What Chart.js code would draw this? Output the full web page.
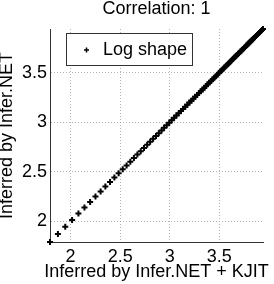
<!doctype html>
<html lang="en">
<head>
<meta charset="utf-8">
<title>Correlation: 1</title>
<script src="https://cdn.jsdelivr.net/npm/chart.js@4/dist/chart.umd.min.js"></script>
<style>
  body { margin: 0; background: #fff; }
  canvas { display: block; }
</style>
</head>
<body>
<canvas id="chart" width="274" height="284"></canvas>
<script>
// values (both estimates sit on the diagonal)
var inferredKjit = [
  1.792, 1.872, 1.946, 2.015, 2.079, 2.140, 2.197, 2.251, 2.303, 2.351,
  2.398, 2.442, 2.485, 2.526, 2.565, 2.603, 2.639, 2.674, 2.708, 2.741,
  2.773, 2.803, 2.833, 2.862, 2.890, 2.918, 2.944, 2.970, 2.996, 3.020,
  3.045, 3.068, 3.091, 3.114, 3.135, 3.157, 3.178, 3.199, 3.219, 3.239,
  3.258, 3.277, 3.296, 3.314, 3.332, 3.350, 3.367, 3.384, 3.401, 3.418,
  3.434, 3.450, 3.466, 3.481, 3.497, 3.512, 3.526, 3.541, 3.555, 3.570,
  3.584, 3.597, 3.611, 3.624, 3.638, 3.651, 3.664, 3.676, 3.689, 3.701,
  3.714, 3.726, 3.738, 3.750, 3.761, 3.773, 3.784, 3.795, 3.807, 3.818,
  3.829, 3.839, 3.850, 3.861, 3.871, 3.882, 3.892, 3.902, 3.912, 3.922,
  3.932, 3.942
];
var inferredNet = [
  1.792, 1.872, 1.946, 2.015, 2.079, 2.140, 2.197, 2.251, 2.303, 2.351,
  2.398, 2.442, 2.485, 2.526, 2.565, 2.603, 2.639, 2.674, 2.708, 2.741,
  2.773, 2.803, 2.833, 2.862, 2.890, 2.918, 2.944, 2.970, 2.996, 3.020,
  3.045, 3.068, 3.091, 3.114, 3.135, 3.157, 3.178, 3.199, 3.219, 3.239,
  3.258, 3.277, 3.296, 3.314, 3.332, 3.350, 3.367, 3.384, 3.401, 3.418,
  3.434, 3.450, 3.466, 3.481, 3.497, 3.512, 3.526, 3.541, 3.555, 3.570,
  3.584, 3.597, 3.611, 3.624, 3.638, 3.651, 3.664, 3.676, 3.689, 3.701,
  3.714, 3.726, 3.738, 3.750, 3.761, 3.773, 3.784, 3.795, 3.807, 3.818,
  3.829, 3.839, 3.850, 3.861, 3.871, 3.882, 3.892, 3.902, 3.912, 3.922,
  3.932, 3.942
];
var xTicks = [2, 2.5, 3, 3.5];
var yTicks = [2, 2.5, 3, 3.5];
var axisMin = 1.792, axisMax = 3.942;
var seriesName = 'Log shape';
var xTitle = 'Inferred by Infer.NET + KJIT';

var FONT = '"Liberation Sans", Arial, Helvetica, sans-serif';

var points = inferredKjit.map(function (v, i) { return { x: v, y: inferredNet[i] }; });

// legend drawn inside the plot, like the matlab one; x title drawn here too
// because the scale title gets squeezed to the plot width
var insideLegend = {
  id: 'insideLegend',
  afterDraw: function (chart) {
    var ctx = chart.ctx;
    var a = chart.chartArea;
    var bx = a.left + 16, by = a.top + 4, bw = 126, bh = 32;
    ctx.save();
    ctx.fillStyle = '#fff';
    ctx.fillRect(bx, by, bw, bh);
    ctx.strokeStyle = '#333';
    ctx.lineWidth = 1;
    ctx.strokeRect(bx + 0.5, by + 0.5, bw, bh);
    ctx.strokeStyle = '#000';
    ctx.lineWidth = 1.5;
    Chart.helpers.drawPoint(ctx, { pointStyle: 'cross', radius: 2.5, borderWidth: 1.5, rotation: 0 }, bx + 20.5, by + 17);
    ctx.fillStyle = '#000';
    ctx.font = '18px ' + FONT;
    ctx.textBaseline = 'middle';
    ctx.textAlign = 'left';
    ctx.fillText(seriesName, bx + 37, by + 17);

    ctx.textAlign = 'center';
    ctx.fillText(xTitle, (a.left + a.right) / 2, chart.height - 12);
    ctx.restore();
  }
};

function setTicks(list) {
  return function (scale) { scale.ticks = list.map(function (v) { return { value: v }; }); };
}

new Chart(document.getElementById('chart'), {
  type: 'scatter',
  data: {
    datasets: [{
      label: seriesName,
      data: points,
      pointStyle: 'cross',
      pointRadius: 3,
      pointBorderWidth: 2,
      pointHoverRadius: 3,
      borderColor: '#000',
      backgroundColor: '#000',
      clip: false
    }]
  },
  options: {
    responsive: false,
    animation: false,
    devicePixelRatio: 1,
    layout: { padding: { left: 0, right: 11, top: 0, bottom: 0 } },
    plugins: {
      legend: { display: false },
      tooltip: { enabled: false },
      title: {
        display: true,
        text: 'Correlation: 1',
        fullSize: false,
        color: '#000',
        font: { family: FONT, size: 18, weight: 'normal', lineHeight: 1 },
        padding: { top: 0, bottom: 11 }
      }
    },
    scales: {
      x: {
        type: 'linear',
        min: axisMin,
        max: axisMax,
        afterBuildTicks: setTicks(xTicks),
        afterFit: function (scale) { scale.height = 42; },
        grid: { color: '#b4b4b4', drawTicks: false, lineWidth: 1 },
        border: { color: '#333', width: 1, dash: [1, 2] },
        ticks: {
          color: '#000', padding: 4,
          font: { family: FONT, size: 18 },
          callback: function (v) { return String(v); }
        },
        title: { display: false }
      },
      y: {
        type: 'linear',
        min: axisMin,
        max: axisMax,
        afterBuildTicks: setTicks(yTicks),
        afterFit: function (scale) { scale.width = 50; },
        grid: { color: '#b4b4b4', drawTicks: false, lineWidth: 1 },
        border: { color: '#333', width: 1, dash: [1, 2] },
        ticks: {
          color: '#000', padding: 3,
          font: { family: FONT, size: 18 },
          callback: function (v) { return String(v); }
        },
        title: {
          display: true,
          text: 'Inferred by Infer.NET',
          color: '#000',
          font: { family: FONT, size: 18, lineHeight: 0.78 },
          padding: { top: 0, bottom: 0 }
        }
      }
    }
  },
  plugins: [insideLegend]
});
</script>
</body>
</html>
